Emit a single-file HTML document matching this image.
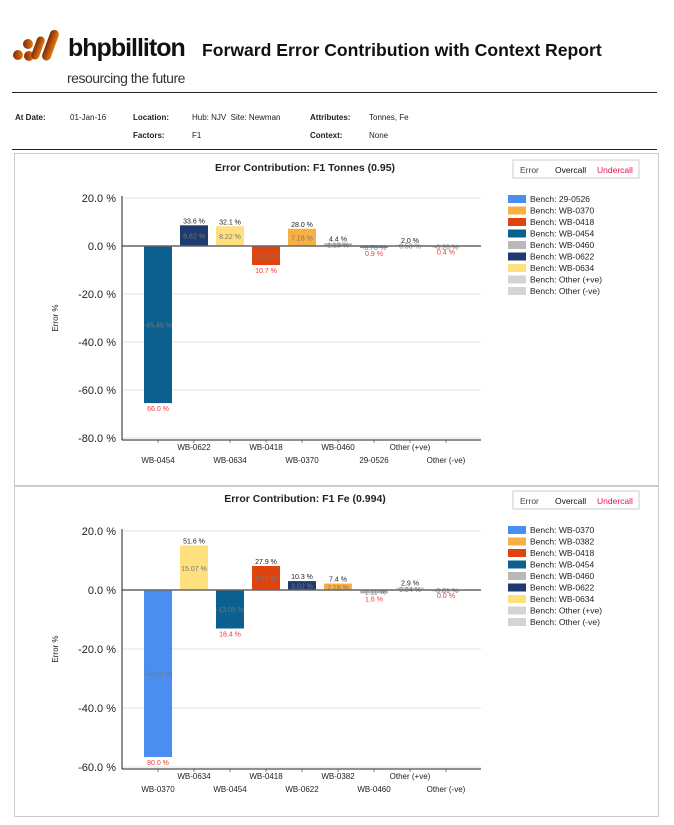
<!DOCTYPE html>
<html><head><meta charset="utf-8"><style>
body{margin:0;width:674px;height:825px;background:#fff;font-family:"Liberation Sans",Arial,sans-serif;position:relative;overflow:hidden}
.abs{position:absolute}
.hdr{font-size:8px;font-weight:bold;color:#222}
.panel{position:absolute;left:14px;width:643px;border:1px solid #ccc;background:#fff}
</style></head><body>
<div class="abs" style="left:12px;top:28px;width:56px;height:34px">
<svg width="56" height="34" viewBox="0 0 56 34"><defs><linearGradient id="g" x1="0" x2="1"><stop offset="0" stop-color="#7a2a08"/><stop offset="1" stop-color="#e8780e"/></linearGradient></defs>
<circle cx="6" cy="27" r="5" fill="url(#g)"/><circle cx="16" cy="16" r="5" fill="url(#g)"/><circle cx="17" cy="28" r="5" fill="url(#g)"/>
<rect x="22" y="8" width="8" height="24" rx="4" transform="rotate(20 26 20)" fill="url(#g)"/>
<rect x="34" y="1" width="9" height="32" rx="4.5" transform="rotate(20 38 17)" fill="url(#g)"/></svg></div>
<div class="abs" style="left:68px;top:34px;font-size:25px;font-weight:bold;color:#111;letter-spacing:-1px">bhpbilliton</div>
<div class="abs" style="left:67px;top:70px;font-size:14px;color:#333;letter-spacing:-0.5px">resourcing the future</div>
<div class="abs" style="left:202px;top:40px;font-size:17.6px;font-weight:bold;color:#111">Forward Error Contribution with Context Report</div>
<div class="abs" style="left:12px;top:92px;width:645px;height:1px;background:#222"></div>
<div class="abs hdr" style="left:15px;top:113px">At Date:</div>
<div class="abs hdr" style="left:70px;top:113px;font-weight:normal">01-Jan-16</div>
<div class="abs hdr" style="left:133px;top:113px">Location:</div>
<div class="abs hdr" style="left:192px;top:113px;font-weight:normal">Hub: NJV&nbsp; Site: Newman</div>
<div class="abs hdr" style="left:310px;top:113px">Attributes:</div>
<div class="abs hdr" style="left:369px;top:113px;font-weight:normal">Tonnes, Fe</div>
<div class="abs hdr" style="left:133px;top:131px">Factors:</div>
<div class="abs hdr" style="left:192px;top:131px;font-weight:normal">F1</div>
<div class="abs hdr" style="left:310px;top:131px">Context:</div>
<div class="abs hdr" style="left:369px;top:131px;font-weight:normal">None</div>
<div class="abs" style="left:12px;top:149px;width:645px;height:1px;background:#222"></div>
<div class="panel" style="top:153px;height:331px"></div>
<div class="panel" style="top:486px;height:329px"></div>
<svg id="svg" class="abs" style="left:0;top:0" width="674" height="825"></svg>
<script>
// Chart 1: Tonnes
const cats1 = ["WB-0454","WB-0622","WB-0634","WB-0418","WB-0370","WB-0460","29-0526","Other (+ve)","Other (-ve)"];
const vals1 = [-65.46, 8.62, 8.22, -7.92, 7.18, 1.13, -0.78, 0.50, -0.26];
const over1 = ["", "33.6 %", "32.1 %", "", "28.0 %", "4.4 %", "", "2.0 %", ""];
const under1 = ["66.0 %", "", "", "10.7 %", "", "", "0.9 %", "", "0.4 %"];
const ticks1 = [20, 0, -20, -40, -60, -80];
const legend1 = ["Bench: 29-0526","Bench: WB-0370","Bench: WB-0418","Bench: WB-0454","Bench: WB-0460","Bench: WB-0622","Bench: WB-0634","Bench: Other (+ve)","Bench: Other (-ve)"];
// Chart 2: Fe
const cats2 = ["WB-0370","WB-0634","WB-0454","WB-0418","WB-0622","WB-0382","WB-0460","Other (+ve)","Other (-ve)"];
const vals2 = [-56.62, 15.07, -13.05, 8.14, 3.02, 2.18, -1.11, 0.84, -0.01];
const over2 = ["", "51.6 %", "", "27.9 %", "10.3 %", "7.4 %", "", "2.9 %", ""];
const under2 = ["80.0 %", "", "18.4 %", "", "", "", "1.6 %", "", "0.0 %"];
const ticks2 = [20, 0, -20, -40, -60];
const legend2 = ["Bench: WB-0370","Bench: WB-0382","Bench: WB-0418","Bench: WB-0454","Bench: WB-0460","Bench: WB-0622","Bench: WB-0634","Bench: Other (+ve)","Bench: Other (-ve)"];

const COL = {"29-0526":"#4a8ff0","WB-0370":"#f9b042","WB-0418":"#e0440e","WB-0454":"#0b6090","WB-0460":"#b8b8b8","WB-0622":"#1e3a6e","WB-0634":"#ffe07e","WB-0382":"#f9b042","Other (+ve)":"#d4d4d4","Other (-ve)":"#d4d4d4"};
const COL2 = Object.assign({}, COL, {"WB-0370":"#4a8ff0"});
const svg = document.getElementById('svg');
const NS = "http://www.w3.org/2000/svg";
function mk(tag, attrs, parent){const e=document.createElementNS(NS,tag);for(const k in attrs)e.setAttribute(k,attrs[k]);(parent||svg).appendChild(e);return e;}
function txt(x,y,s,attrs){const e=mk('text',Object.assign({x:x,y:y,'font-family':'Liberation Sans, Arial, sans-serif','font-size':8},attrs));e.textContent=s;return e;}

function chart(o){
  const x0=122,x1=481,bx0=140,band=36;
  const y=v=>o.zeroY-v*o.ppu;
  const xc=i=>bx0+band*i+band/2;
  const t=txt(o.titleX,o.titleY,o.title,{'font-size':10.5,'font-weight':'bold','text-anchor':'middle',fill:'#222'});
  
  
  o.ticks.forEach(v=>{
    const g=mk('line',{x1:x0,x2:x1,y1:y(v),y2:y(v),stroke:'#e2e2e2','stroke-width':1});
    
    
    const l=txt(x0-6,y(v)+4,v.toFixed(1)+' %',{'font-size':11,'text-anchor':'end',fill:'#222'});
    
    
  });
  const yt=txt(0,0,'Error %',{'font-size':8,'text-anchor':'middle',fill:'#222',transform:`translate(${o.yTitleX},${(y(o.ticks[0])+y(o.ticks[o.ticks.length-1]))/2}) rotate(-90)`});
  
  
  const yb=y(o.ticks[o.ticks.length-1])+2;
  o.vals.forEach((v,i)=>{
    const c=o.cats[i];
    const b=mk('rect',{x:xc(i)-14,width:28,y:Math.min(y(v),o.zeroY),height:Math.max(Math.abs(y(v)-o.zeroY),1.5),fill:o.col[c]});
    
    
    const vl=txt(xc(i),(y(v)+o.zeroY)/2+3,v.toFixed(2)+' %',{'font-size':7,'text-anchor':'middle',fill:'#777'});
    
    
    if(o.over[i]){const a=txt(xc(i),Math.min(y(v),o.zeroY)-2,o.over[i],{'font-size':7,'text-anchor':'middle',fill:'#222'});
      
      }
    if(o.under[i]){const a=txt(xc(i),Math.max(y(v),o.zeroY)+8,o.under[i],{'font-size':7,'text-anchor':'middle',fill:'#f03a3a'});
      
      }
    const xl=txt(xc(i),i%2===0?yb+23:yb+10,c,{'font-size':8,'text-anchor':'middle',fill:'#222'});
    
    
    const tk=mk('line',{x1:xc(i),x2:xc(i),y1:yb,y2:yb+3,stroke:'#888'});
    
    
  });
  const zl=mk('line',{x1:x0,x2:x1,y1:o.zeroY,y2:o.zeroY,stroke:'#666','stroke-width':1.5});
  
  
  const ya=mk('line',{x1:x0,x2:x0,y1:y(o.ticks[0])-2,y2:yb,stroke:'#222'});
  
  
  const xa=mk('line',{x1:x0,x2:x1,y1:yb,y2:yb,stroke:'#222'});
  
  
  const bx=mk('rect',{x:513,y:o.titleY-11,width:126,height:18,fill:'#fff',stroke:'#ccc'});
  
  
  [['Error',520,'#444'],['Overcall',555,'#111'],['Undercall',597,'#f0104a']].forEach(([s,x,c])=>{
    const e=txt(x,o.titleY+2,s,{'font-size':8.5,fill:c});
    
    
  });
  o.legend.forEach((s,i)=>{
    const ly=o.legY+i*11.5;
    const key=s.replace('Bench: ','');
    const r=mk('rect',{x:508,y:ly-7,width:18,height:8,fill:o.col[key]});
    
    
    const e=txt(530,ly,s,{'font-size':8.5,fill:'#222'});
    
    
  });
}
chart({key:'tonnes',title:'Error Contribution: F1 Tonnes (0.95)',titleX:305,titleY:171,cats:cats1,vals:vals1,over:over1,under:under1,ticks:ticks1,legend:legend1,zeroY:246,ppu:2.4,yTitleX:58,legY:202,col:COL});
chart({key:'fe',title:'Error Contribution: F1 Fe (0.994)',titleX:305,titleY:502,cats:cats2,vals:vals2,over:over2,under:under2,ticks:ticks2,legend:legend2,zeroY:590,ppu:2.95,yTitleX:58,legY:533,col:COL2});
</script>
</body></html>
